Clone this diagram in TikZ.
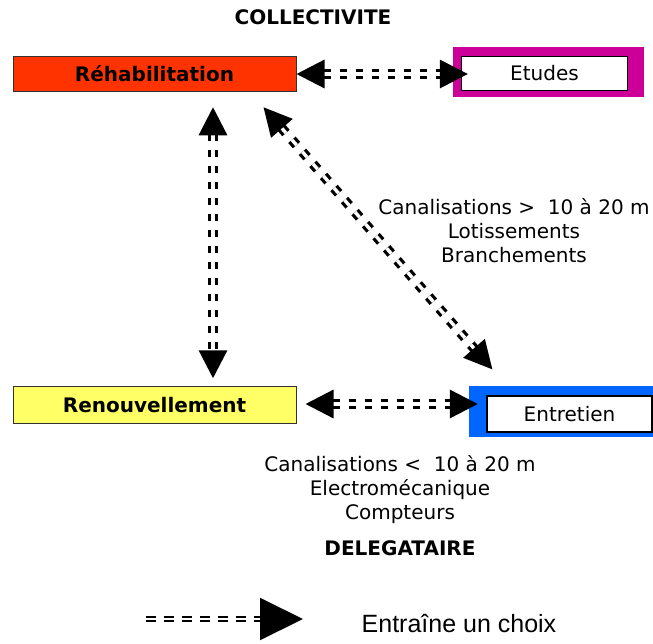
\documentclass[tikz,border=0pt]{standalone}
\usepackage{fontspec}
\setmainfont{DejaVu Sans}
\newfontfamily\legendfont{Liberation Sans}
\usetikzlibrary{arrows.meta}
\definecolor{rehabred}{HTML}{FF3300}
\definecolor{renyellow}{HTML}{FFFF66}
\definecolor{etmagenta}{HTML}{CC0099}
\definecolor{entblue}{HTML}{0066FF}
\definecolor{boxborder}{HTML}{333333}
\tikzset{
  mainbox/.style={draw=boxborder, line width=1pt, inner sep=0pt, font=\fontsize{20}{24}\selectfont\bfseries},
  framebox/.style={inner sep=0pt, draw=none},
  whitebox/.style={draw=black, line width=1.2pt, fill=white, inner sep=0pt, font=\fontsize{20}{24}\selectfont},
  dblarrow/.style={line width=3.2pt, double=white, double distance=3.4pt, dash pattern=on 7pt off 9pt,
    {Triangle[length=28pt,width=28pt]}-{Triangle[length=28pt,width=28pt]}},
  legarrow/.style={line width=2pt, double=white, double distance=2pt, dash pattern=on 10pt off 8pt,
    -{Triangle[length=43pt,width=42pt]}},
  lbl/.style={align=center, inner sep=0pt, font=\fontsize{20}{24}\selectfont},
  hdr/.style={inner sep=0pt, font=\fontsize{20}{24}\selectfont\bfseries}
}
\begin{document}
\begin{tikzpicture}[x=1pt,y=-1pt]
\useasboundingbox (0,0) rectangle (653,643);

% header
\node[hdr] (coll) at (313,17) {COLLECTIVITE};

% boxes
\node[mainbox, fill=rehabred, minimum width=283pt, minimum height=35.5pt] (rehab) at (154.5,74) {Réhabilitation};
\node[mainbox, fill=renyellow, minimum width=283pt, minimum height=36.5pt] (renouv) at (154.5,405) {Renouvellement};

\node[framebox, fill=etmagenta, minimum width=191pt, minimum height=50pt] (etudesframe) at (548,72) {};
\node[whitebox, minimum width=166pt, minimum height=34pt] (etudes) at (544.5,73.5) {Etudes};

\node[framebox, fill=entblue, minimum width=184pt, minimum height=51pt] (entretienframe) at (561,411.5) {};
\node[whitebox, minimum width=165pt, minimum height=36pt] (entretien) at (569.5,414) {Entretien};

% connectors
\draw[dblarrow, shorten >=-7pt] (rehab.east) -- (rehab.east -| etudes.west);
\draw[dblarrow] ([xshift=58.5pt,yshift=-15pt]rehab.south) -- ([xshift=58.5pt,yshift=8pt]renouv.north);
\draw[dblarrow] ([xshift=-33pt,yshift=-15pt]rehab.south east) -- ([xshift=6pt,yshift=26pt]entretien.north west);
\draw[dblarrow, shorten >=-9pt] ([xshift=9pt,yshift=1pt]renouv.east) -- ([yshift=1pt]renouv.east -| entretienframe.west);

% labels
\node[lbl] (lblhaut) at (514,231) {Canalisations >\ \ 10 à 20 m\\Lotissements\\Branchements};
\node[lbl] (lblbas) at (400,490) {Canalisations <\ \ 10 à 20 m\\Electromécanique\\Compteurs};
\node[hdr] (deleg) at (400,548) {DELEGATAIRE};

% legend
\coordinate (legA) at (146,619);
\coordinate (legB) at (303,619);
\draw[legarrow] (legA) -- (legB);
\node[inner sep=0pt, font=\legendfont\fontsize{25}{30}\selectfont] (legtxt) at (459,624) {Entraîne un choix};
\end{tikzpicture}
\end{document}
